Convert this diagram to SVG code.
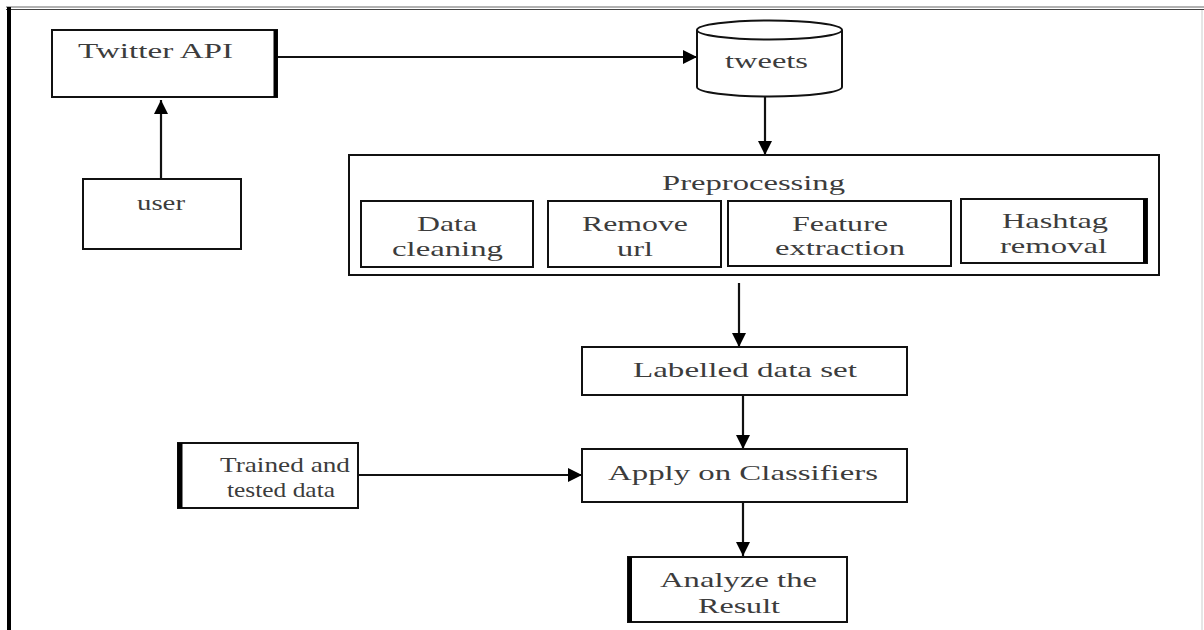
<svg xmlns="http://www.w3.org/2000/svg" width="1204" height="630" viewBox="0 0 1204 630">
<defs>
<style>
.box{fill:#fff;stroke:#111;stroke-width:2}
.t{font-family:"Liberation Serif","Times New Roman",serif;font-size:22px;fill:#3c3c3c}
.c{fill:none;stroke:#111;stroke-width:2.2}
.thick{stroke:#000;stroke-width:4;fill:none}
</style>
<marker id="ah" markerUnits="userSpaceOnUse" markerWidth="16" markerHeight="14" refX="14" refY="7" orient="auto">
<path d="M0,0 L14,7 L0,14 z" fill="#000"/>
</marker>
</defs>
<rect width="1204" height="630" fill="#fff"/>
<g id="frame">
<line x1="6" y1="7" x2="1204" y2="7" stroke="#666" stroke-width="1.2"/>
<line x1="6" y1="9.5" x2="1204" y2="9.5" stroke="#444" stroke-width="1.2"/>
<line x1="9" y1="7" x2="9" y2="630" stroke="#000" stroke-width="4"/>
<line x1="1202" y1="10" x2="1202" y2="630" stroke="#ccc" stroke-width="1"/>
</g>
<g id="connectors">
<path class="c" d="M161,179 L161,100" marker-end="url(#ah)"/>
<path class="c" d="M277,57 L697,57" marker-end="url(#ah)"/>
<path class="c" d="M765,96 L765,155" marker-end="url(#ah)"/>
<path class="c" d="M739,283 L739,347" marker-end="url(#ah)"/>
<path class="c" d="M743,395 L743,449" marker-end="url(#ah)"/>
<path class="c" d="M358,475 L582,475" marker-end="url(#ah)"/>
<path class="c" d="M743,502 L743,556" marker-end="url(#ah)"/>
</g>
<g id="twitter-api">
<rect class="box" x="52" y="30" width="225" height="67"/>
<line class="thick" x1="275.5" y1="30" x2="275.5" y2="97"/>
<text class="t" x="78" y="58" textLength="155" lengthAdjust="spacingAndGlyphs">Twitter API</text>
</g>
<g id="user">
<rect class="box" x="83" y="179" width="158" height="70"/>
<text class="t" x="137" y="210" textLength="48" lengthAdjust="spacingAndGlyphs">user</text>
</g>
<g id="tweets">
<path class="box" d="M697,30 L697,87 A72.5,9.5 0 0 0 842,87 L842,30"/>
<ellipse class="box" cx="769.5" cy="30" rx="72.5" ry="9.5"/>
<text class="t" x="725" y="68" textLength="83" lengthAdjust="spacingAndGlyphs">tweets</text>
</g>
<g id="preprocessing">
<rect class="box" x="349" y="155" width="810" height="120"/>
<text class="t" x="662" y="190" textLength="183" lengthAdjust="spacingAndGlyphs">Preprocessing</text>
</g>
<g id="data-cleaning">
<rect class="box" x="361" y="201" width="172" height="66" stroke-width="2.5"/>
<text class="t" x="417" y="231" textLength="60" lengthAdjust="spacingAndGlyphs">Data</text>
<text class="t" x="392" y="256" textLength="111" lengthAdjust="spacingAndGlyphs">cleaning</text>
</g>
<g id="remove-url">
<rect class="box" x="548" y="201" width="173" height="66" stroke-width="2.5"/>
<text class="t" x="582" y="231" textLength="106" lengthAdjust="spacingAndGlyphs">Remove</text>
<text class="t" x="617" y="256" textLength="36" lengthAdjust="spacingAndGlyphs">url</text>
</g>
<g id="feature-extraction">
<rect class="box" x="728" y="201" width="223" height="65"/>
<text class="t" x="792" y="231" textLength="96" lengthAdjust="spacingAndGlyphs">Feature</text>
<text class="t" x="775" y="255" textLength="130" lengthAdjust="spacingAndGlyphs">extraction</text>
</g>
<g id="hashtag-removal">
<rect class="box" x="961" y="199" width="186" height="64" stroke-width="2.5"/>
<line class="thick" x1="1145" y1="199" x2="1145" y2="263"/>
<text class="t" x="1002" y="228" textLength="106" lengthAdjust="spacingAndGlyphs">Hashtag</text>
<text class="t" x="1000" y="253" textLength="107" lengthAdjust="spacingAndGlyphs">removal</text>
</g>
<g id="labelled-data-set">
<rect class="box" x="582" y="347" width="325" height="48"/>
<text class="t" x="633" y="377" textLength="224" lengthAdjust="spacingAndGlyphs">Labelled data set</text>
</g>
<g id="trained-tested-data">
<rect class="box" x="178" y="443" width="180" height="65"/>
<line x1="180" y1="443" x2="180" y2="508" stroke="#000" stroke-width="5"/>
<text class="t" x="220" y="472" textLength="130" lengthAdjust="spacingAndGlyphs">Trained and</text>
<text class="t" x="227" y="497" textLength="108" lengthAdjust="spacingAndGlyphs">tested data</text>
</g>
<g id="apply-on-classifiers">
<rect class="box" x="582" y="449" width="325" height="53"/>
<text class="t" x="608" y="480" textLength="270" lengthAdjust="spacingAndGlyphs">Apply on Classifiers</text>
</g>
<g id="analyze-the-result">
<rect class="box" x="628" y="557" width="219" height="65"/>
<line x1="630" y1="557" x2="630" y2="622" stroke="#000" stroke-width="4"/>
<text class="t" x="660" y="587" textLength="157" lengthAdjust="spacingAndGlyphs">Analyze the</text>
<text class="t" x="698" y="613" textLength="82" lengthAdjust="spacingAndGlyphs">Result</text>
</g>
</svg>
